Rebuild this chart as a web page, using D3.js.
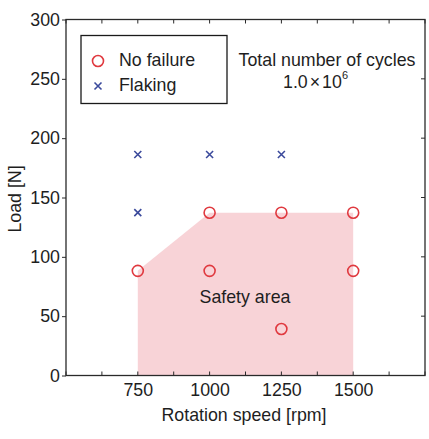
<!DOCTYPE html>
<html>
<head>
<meta charset="utf-8">
<script src="https://cdn.jsdelivr.net/npm/d3@7"></script>
<style>
  html, body { margin: 0; padding: 0; background: #ffffff; }
  svg { display: block; }
  text { font-family: "Liberation Sans", Arial, sans-serif; fill: #1e1e1e; }
</style>
</head>
<body>
<svg id="chart" width="429" height="439"></svg>
<script>
// Rolling test results: rotation speed [rpm] vs. load [N]
const noFailureSpeed = [750, 1000, 1500, 1000, 1250, 1500, 1250];
const noFailureLoad  = [88.2, 88.2, 88.2, 137.2, 137.2, 137.2, 39.2];
const flakingSpeed   = [750, 1000, 1250, 750];
const flakingLoad    = [186.2, 186.2, 186.2, 137.2];

// Boundary of the safe operating region
const safetySpeed = [750, 750, 1000, 1500, 1500];
const safetyLoad  = [0, 88.2, 137.2, 137.2, 0];

const xTicks = [750, 1000, 1250, 1500];
const xMinorTicks = [500, 625, 750, 875, 1000, 1125, 1250, 1375, 1500, 1625, 1750];
const yTicks = [0, 50, 100, 150, 200, 250, 300];

const svg = d3.select("#chart");
const plotLeft = 66, plotRight = 425, plotTop = 19.5, plotBottom = 375.5;

const x = d3.scaleLinear().domain([500, 1750]).range([plotLeft, plotRight]);
const y = d3.scaleLinear().domain([0, 300]).range([plotBottom, plotTop]);

const axisColor = "#2a2a2a";
const fontSize = 17.8;

// Safety area
svg.append("path")
  .datum(safetySpeed.map((s, i) => [s, safetyLoad[i]]))
  .attr("d", d3.line().x(d => x(d[0])).y(d => y(d[1])))
  .attr("fill", "#f8d3d7")
  .attr("stroke", "none");

svg.append("text")
  .attr("x", 245).attr("y", 303)
  .attr("text-anchor", "middle")
  .attr("font-size", fontSize)
  .text("Safety area");

// Frame
svg.append("rect")
  .attr("x", plotLeft).attr("y", plotTop)
  .attr("width", plotRight - plotLeft).attr("height", plotBottom - plotTop)
  .attr("fill", "none").attr("stroke", axisColor).attr("stroke-width", 1.3);

// Bottom axis
const xAxisB = d3.axisBottom(x).tickValues(xTicks).tickFormat(d3.format("d"))
  .tickSize(0).tickPadding(8);
const gxb = svg.append("g").attr("transform", `translate(0,${plotBottom})`).call(xAxisB);
gxb.select(".domain").remove();
gxb.selectAll("text").attr("font-size", fontSize)
  .attr("font-family", "Liberation Sans, Arial, sans-serif").attr("fill", "#1e1e1e");

// Minor ticks on bottom and top, pointing inward
const tickG = svg.append("g").attr("stroke", axisColor).attr("stroke-width", 1);
xMinorTicks.forEach(v => {
  tickG.append("line").attr("x1", x(v)).attr("x2", x(v)).attr("y1", plotBottom).attr("y2", plotBottom - 4);
  tickG.append("line").attr("x1", x(v)).attr("x2", x(v)).attr("y1", plotTop).attr("y2", plotTop + 4);
});

// Left axis
const yAxisL = d3.axisLeft(y).tickValues(yTicks).tickFormat(d3.format("d"))
  .tickSize(4).tickPadding(2);
const gyl = svg.append("g").attr("transform", `translate(${plotLeft},0)`).call(yAxisL);
gyl.select(".domain").remove();
gyl.selectAll("line").attr("stroke", axisColor);
gyl.selectAll("text").attr("font-size", fontSize)
  .attr("font-family", "Liberation Sans, Arial, sans-serif").attr("fill", "#1e1e1e");

// Right axis ticks, inward
yTicks.forEach(v => {
  tickG.append("line").attr("x1", plotRight).attr("x2", plotRight - 4).attr("y1", y(v)).attr("y2", y(v));
});

// Axis titles
svg.append("text")
  .attr("x", 244).attr("y", 421)
  .attr("text-anchor", "middle")
  .attr("font-size", fontSize)
  .text("Rotation speed [rpm]");

svg.append("text")
  .attr("transform", "translate(21,199) rotate(-90)")
  .attr("text-anchor", "middle")
  .attr("font-size", fontSize)
  .text("Load [N]");

// Markers
const red = "#e0393f";
const blue = "#3b4a9c";

svg.append("g").selectAll("circle")
  .data(noFailureSpeed.map((s, i) => [s, noFailureLoad[i]]))
  .join("circle")
  .attr("cx", d => x(d[0])).attr("cy", d => y(d[1]))
  .attr("r", 5.5)
  .attr("fill", "none").attr("stroke", red).attr("stroke-width", 1.6);

const cross = (g, cx, cy, s) => {
  g.append("path")
    .attr("d", `M${cx - s},${cy - s}L${cx + s},${cy + s}M${cx - s},${cy + s}L${cx + s},${cy - s}`)
    .attr("stroke", blue).attr("stroke-width", 1.6).attr("fill", "none");
};
const fg = svg.append("g");
flakingSpeed.forEach((s, i) => cross(fg, x(s), y(flakingLoad[i]), 3.5));

// Legend
svg.append("rect")
  .attr("x", 81).attr("y", 35.5).attr("width", 146).attr("height", 68)
  .attr("fill", "none").attr("stroke", "#1a1a1a").attr("stroke-width", 1.3);
svg.append("circle").attr("cx", 98).attr("cy", 61).attr("r", 5.5)
  .attr("fill", "none").attr("stroke", red).attr("stroke-width", 1.6);
svg.append("text").attr("x", 119).attr("y", 66).attr("font-size", fontSize).text("No failure");
cross(svg, 98, 86, 3.5);
svg.append("text").attr("x", 119).attr("y", 91).attr("font-size", fontSize).text("Flaking");

// Annotation
svg.append("text").attr("x", 327).attr("y", 66)
  .attr("text-anchor", "middle").attr("font-size", fontSize)
  .text("Total number of cycles");
const ann = svg.append("text").attr("x", 283).attr("y", 88).attr("font-size", fontSize);
ann.append("tspan").text("1.0");
ann.append("tspan").attr("dx", 2).text("\u00d7");
ann.append("tspan").attr("dx", 2).text("10");
ann.append("tspan").attr("font-size", 11).attr("dy", -9).text("6");
</script>
</body>
</html>
